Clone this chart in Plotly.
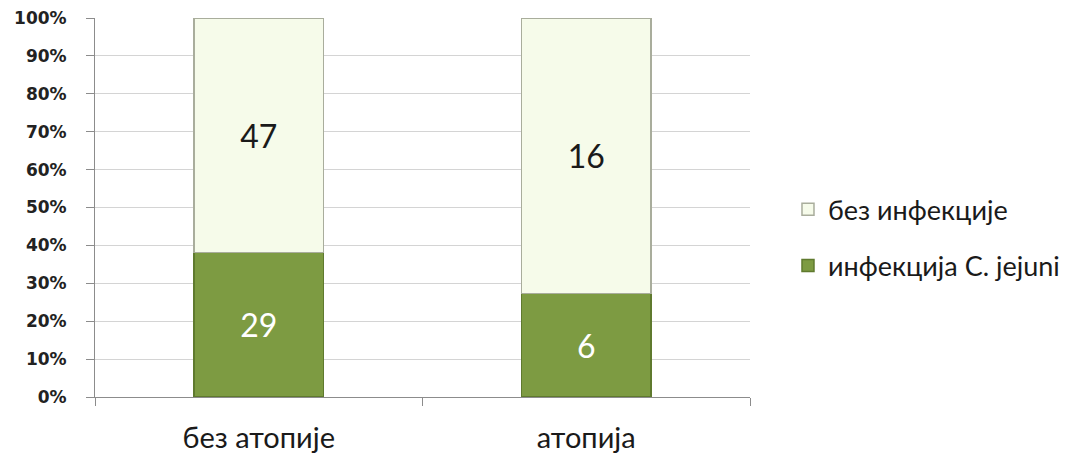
import plotly.graph_objects as go

# groups on the x axis
categories = ['без атопије', 'атопија']

# counts per group
infected = [29, 6]
not_infected = [47, 16]

series_names = ['инфекција C. jejuni', 'без инфекције']
y_ticks = [0, 10, 20, 30, 40, 50, 60, 70, 80, 90, 100]
y_tick_labels = ['%d%%' % t for t in y_ticks]

fig = go.Figure()
fig.add_trace(go.Bar(
    x=categories, y=infected, name=series_names[0],
    legendgroup='inf', legendrank=2,
    text=infected, textposition='inside', insidetextanchor='middle',
    textfont=dict(family='Lato', size=32, color='white'),
    marker=dict(color='#7d9b42', line=dict(color='#5f7a2e', width=1.5)),
    width=0.395,
))
fig.add_trace(go.Bar(
    x=categories, y=not_infected, name=series_names[1],
    legendgroup='noinf', legendrank=1,
    text=not_infected, textposition='inside', insidetextanchor='middle',
    textfont=dict(family='Lato', size=32, color='#1a1a1a'),
    marker=dict(color='#f6fbea', line=dict(color='#a9ad9c', width=1.5)),
    width=0.395,
))

# the page body has an 8px margin, so the margins are shifted by it
fig.update_layout(
    barmode='stack', barnorm='percent',
    width=1071, height=447,
    margin=dict(l=87, r=329, t=10, b=58, autoexpand=False),
    plot_bgcolor='white', paper_bgcolor='white',
    showlegend=True,
    legend=dict(x=1.058, y=0.42, xanchor='left', yanchor='middle',
                traceorder='grouped', tracegroupgap=18,
                font=dict(family='Lato', size=27, color='#1a1a1a'),
                itemwidth=30),
)
fig.update_yaxes(
    range=[0, 100], tickvals=y_ticks, ticktext=y_tick_labels,
    showgrid=True, gridcolor='#d4d4d4', gridwidth=1,
    showline=True, linecolor='#8c8c8c', linewidth=1,
    ticks='outside', ticklen=8, tickcolor='#8c8c8c',
    ticklabelstandoff=16, ticklabeloverflow='allow',
    tickfont=dict(family='DejaVu Sans', size=17, color='#222222', weight='bold'),
    zeroline=False, automargin=False,
)
fig.update_xaxes(
    showline=True, linecolor='#8c8c8c', linewidth=1,
    ticks='outside', ticklen=8, tickcolor='#8c8c8c', tickson='boundaries',
    ticklabelstandoff=15, ticklabeloverflow='allow',
    tickfont=dict(family='Lato', size=29, color='#1a1a1a'),
    automargin=False,
)

fig.write_html("out.html")
